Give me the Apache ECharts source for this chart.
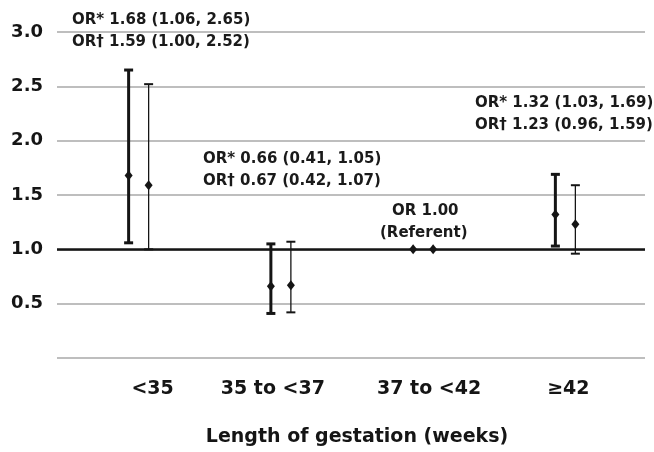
<!DOCTYPE html>
<html>
<head>
<meta charset="utf-8">
<script src="https://cdn.jsdelivr.net/npm/echarts@6/dist/echarts.min.js"></script>
<style>
  html, body { margin: 0; padding: 0; background: #fff; }
  #chart { width: 654px; height: 452px; }
</style>
</head>
<body>
<div id="chart"></div>
<script>
// categories and odds ratios (OR* = adjusted, OR† = second model)
const categories = ["<35", "35 to <37", "37 to <42", "≥42"];
const orStar = [1.68, 0.66, 1.00, 1.32];
const orStarLow = [1.06, 0.41, null, 1.03];
const orStarHigh = [2.65, 1.05, null, 1.69];
const orDagger = [1.59, 0.67, 1.00, 1.23];
const orDaggerLow = [1.00, 0.42, null, 0.96];
const orDaggerHigh = [2.52, 1.07, null, 1.59];
const yTicks = [0, 0.5, 1.0, 1.5, 2.0, 2.5, 3.0];

// annotation texts
const noteLt35 = ["OR* 1.68 (1.06, 2.65)", "OR† 1.59 (1.00, 2.52)"];
const note35 = ["OR* 0.66 (0.41, 1.05)", "OR† 0.67 (0.42, 1.07)"];
const noteRef = ["OR 1.00", "(Referent)"];
const note42 = ["OR* 1.32 (1.03, 1.69)", "OR† 1.23 (0.96, 1.59)"];

const FONT = "DejaVu Sans";
const INK = "#151515";

const chart = echarts.init(document.getElementById("chart"));

function errorBarSeries(name, mid, low, high, offset, lineW, capW) {
  const data = categories.map((c, i) => [i, mid[i], low[i], high[i]]);
  return {
    name: name,
    type: "custom",
    xAxisIndex: 1,
    yAxisIndex: 1,
    data: data,
    z: 5,
    renderItem: function (params, api) {
      const idx = api.value(0);
      const m = api.coord([idx, api.value(1)]);
      const x = m[0] + offset;
      const children = [];
      const lo = api.value(2);
      const hi = api.value(3);
      if (lo != null && hi != null && !isNaN(lo) && !isNaN(hi)) {
        const pLo = api.coord([idx, lo]);
        const pHi = api.coord([idx, hi]);
        children.push({ type: "line", shape: { x1: x, y1: pLo[1], x2: x, y2: pHi[1] }, style: { stroke: INK, lineWidth: lineW } });
        children.push({ type: "line", shape: { x1: x - 4.5, y1: pLo[1], x2: x + 4.5, y2: pLo[1] }, style: { stroke: INK, lineWidth: capW } });
        children.push({ type: "line", shape: { x1: x - 4.5, y1: pHi[1], x2: x + 4.5, y2: pHi[1] }, style: { stroke: INK, lineWidth: capW } });
      }
      children.push({
        type: "polygon",
        shape: { points: [[x, m[1] - 5], [x + 4, m[1]], [x, m[1] + 5], [x - 4, m[1]]] },
        style: { fill: INK }
      });
      return { type: "group", children: children };
    }
  };
}

function noteText(lines, x, ys, align) {
  return lines.map((t, i) => ({
    type: "text",
    left: x,
    top: ys[i] - 9,
    style: {
      text: t,
      fill: "#1a1a1a",
      font: "bold 15px '" + FONT + "'",
      textAlign: align || "left"
    }
  }));
}

// small nudges so the tick labels sit where the reference prints them
const labelShift = [14, -8, 6, 3];
const richLabel = {};
labelShift.forEach((s, i) => {
  richLabel["c" + i] = {
    padding: s >= 0 ? [0, 0, 0, s * 2] : [0, -s * 2, 0, 0],
    fontFamily: FONT,
    fontWeight: "bold",
    fontSize: 19,
    color: INK
  };
});

const option = {
  animation: false,
  backgroundColor: "#fff",
  grid: [
    { left: 57, right: 9, top: 32, bottom: 94 },
    { left: 67.5, right: 17.5, top: 32, bottom: 94 }
  ],
  xAxis: [
    { gridIndex: 0, type: "value", min: 0, max: 1, show: false },
    {
      gridIndex: 1,
      type: "category",
      data: categories,
      boundaryGap: true,
      axisLine: { show: false },
      axisTick: { show: false },
      axisLabel: {
        interval: 0,
        hideOverlap: false,
        margin: 22,
        color: INK,
        fontFamily: FONT,
        fontWeight: "bold",
        fontSize: 19,
        formatter: function (v, i) { return "{c" + i + "|" + v + "}"; },
        rich: richLabel
      },
      name: "Length of gestation (weeks)",
      nameLocation: "middle",
      nameGap: 70,
      nameTextStyle: {
        color: INK,
        fontFamily: FONT,
        fontWeight: "bold",
        fontSize: 19,
        padding: [0, 0, 0, 10]
      }
    }
  ],
  yAxis: [
    {
      gridIndex: 0,
      type: "value",
      min: yTicks[0],
      max: yTicks[yTicks.length - 1],
      interval: 0.5,
      axisLine: { show: false },
      axisTick: { show: false },
      axisLabel: {
        margin: 14,
        color: INK,
        fontFamily: FONT,
        fontWeight: "bold",
        fontSize: 18,
        formatter: function (v) { return v === 0 ? "" : v.toFixed(1); }
      },
      splitLine: { lineStyle: { color: "#a8a8a8", width: 1.5 } }
    },
    {
      gridIndex: 1,
      type: "value",
      min: yTicks[0],
      max: yTicks[yTicks.length - 1],
      interval: 0.5,
      show: false
    }
  ],
  series: [
    {
      type: "line",
      xAxisIndex: 0,
      yAxisIndex: 0,
      data: [],
      markLine: {
        silent: true,
        symbol: "none",
        label: { show: false },
        lineStyle: { color: INK, width: 2.5, type: "solid" },
        data: [{ yAxis: 1 }]
      }
    },
    errorBarSeries("OR*", orStar, orStarLow, orStarHigh, -10, 3, 3),
    errorBarSeries("OR†", orDagger, orDaggerLow, orDaggerHigh, 10, 1.3, 2)
  ],
  graphic: [].concat(
    noteText(noteLt35, 72, [22, 44]),
    noteText(note35, 203, [161, 183]),
    noteText(noteRef, 388, [213, 235]).map((g, i) => { g.left = i === 0 ? 392 : 380; return g; }),
    noteText(note42, 475, [105, 127])
  )
};

chart.setOption(option);
</script>
</body>
</html>
